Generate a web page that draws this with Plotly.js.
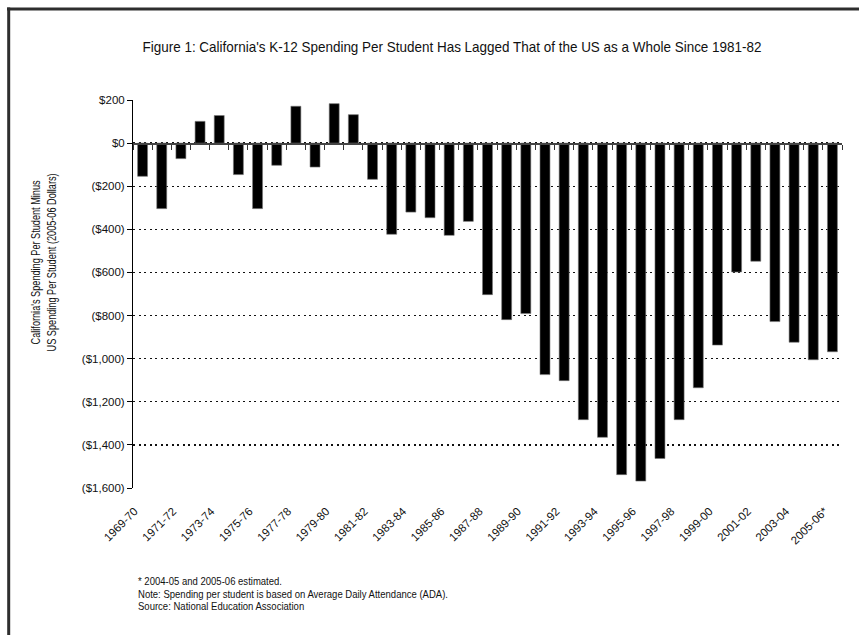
<!DOCTYPE html>
<html>
<head>
<meta charset="utf-8">
<script src="https://cdn.plot.ly/plotly-3.0.1.min.js"></script>
<style>
  html, body { margin: 0; padding: 0; background: #fff; }
  #chart { width: 859px; height: 635px; }
</style>
</head>
<body>
<div id="chart"></div>
<script>
// School years (x categories); the last year is an estimate
const years = [
  "1969-70","1970-71","1971-72","1972-73","1973-74","1974-75","1975-76","1976-77",
  "1977-78","1978-79","1979-80","1980-81","1981-82","1982-83","1983-84","1984-85",
  "1985-86","1986-87","1987-88","1988-89","1989-90","1990-91","1991-92","1992-93",
  "1993-94","1994-95","1995-96","1996-97","1997-98","1998-99","1999-00","2000-01",
  "2001-02","2002-03","2003-04","2004-05","2005-06*"
];

// California per-student spending minus US per-student spending (2005-06 dollars)
const gap = [
  -154, -304, -72, 101, 128, -146, -304, -103,
  171, -111, 183, 132, -168, -423, -320, -346,
  -428, -363, -703, -819, -791, -1074, -1102, -1283,
  -1365, -1538, -1568, -1463, -1283, -1135, -937, -598,
  -548, -828, -924, -1005, -968
];

// Labelled years along the bottom
const xTickLabels = [
  "1969-70","1971-72","1973-74","1975-76","1977-78","1979-80","1981-82","1983-84",
  "1985-86","1987-88","1989-90","1991-92","1993-94","1995-96","1997-98","1999-00",
  "2001-02","2003-04","2005-06*"
];

// Value axis ticks
const yTickVals = [200, 0, -200, -400, -600, -800, -1000, -1200, -1400, -1600];
const yTickText = ["$200", "$0", "($200)", "($400)", "($600)", "($800)",
                   "($1,000)", "($1,200)", "($1,400)", "($1,600)"];

const titleText = "Figure 1: California's K-12 Spending Per Student Has Lagged That of the US as a Whole Since 1981-82";
const yTitleText = "California's Spending Per Student Minus<br>US Spending Per Student (2005-06 Dollars)";
const noteLines = [
  "* 2004-05 and 2005-06 estimated.",
  "Note: Spending per student is based on Average Daily Attendance (ADA).",
  "Source: National Education Association"
];

const yRange = [yTickVals[yTickVals.length - 1], yTickVals[0]];
const xRange = [-0.5, years.length - 0.5];
const zeroPos = (0 - yRange[0]) / (yRange[1] - yRange[0]);

const sans = '"Liberation Sans", Arial, sans-serif';

// pixel helpers for placing page furniture around the plot area
const M = { l: 133, r: 17, t: 100, b: 147 };
const PW = 859 - M.l - M.r, PH = 635 - M.t - M.b;
const px = x => (x - M.l) / PW;
const py = y => (635 - M.b - y) / PH;

const traces = [
  {
    type: "bar",
    x: years,
    y: gap,
    marker: { color: "#000", line: { color: "#777", width: 0.6 } },
    hoverinfo: "skip",
    showlegend: false
  },
  {
    // carries the baseline axis drawn at zero
    type: "scatter",
    mode: "markers",
    x: years,
    y: years.map(() => 0),
    xaxis: "x2",
    yaxis: "y",
    marker: { opacity: 0 },
    hoverinfo: "skip",
    showlegend: false
  }
];

const noteAnnotations = noteLines.map((t, i) => ({
  text: t,
  xref: "paper", yref: "paper",
  x: px(136), y: py([581, 593.5, 606][i]),
  xanchor: "left", yanchor: "middle",
  showarrow: false,
  align: "left",
  font: { family: sans, size: 11, color: "#111" }
}));

const layout = {
  width: 859,
  height: 635,
  margin: M,
  paper_bgcolor: "#fff",
  plot_bgcolor: "#fff",
  bargap: 0.48,
  showlegend: false,
  title: {
    text: titleText,
    font: { family: sans, size: 15, color: "#111" },
    x: 452 / 859, xanchor: "center", xref: "container",
    y: 1 - 47 / 635, yanchor: "middle", yref: "container"
  },
  xaxis: {
    type: "category",
    categoryorder: "array",
    categoryarray: years,
    range: xRange,
    tickmode: "array",
    tickvals: xTickLabels,
    ticktext: xTickLabels,
    tickangle: -45,
    ticks: "outside",
    ticklen: 11,
    tickcolor: "rgba(0,0,0,0)",
    ticklabelshift: -8,
    tickfont: { family: sans, size: 11.5, color: "#111" },
    showline: false,
    showgrid: false,
    zeroline: false
  },
  xaxis2: {
    type: "category",
    categoryorder: "array",
    categoryarray: years,
    range: xRange,
    overlaying: "x",
    anchor: "free",
    position: zeroPos,
    side: "bottom",
    tickmode: "array",
    tickvals: years,
    tickson: "boundaries",
    ticks: "outside",
    ticklen: 5,
    tickwidth: 1,
    tickcolor: "#333",
    showticklabels: false,
    showline: true,
    linecolor: "#444",
    linewidth: 1.5,
    showgrid: false,
    zeroline: false
  },
  yaxis: {
    range: yRange,
    tickmode: "array",
    tickvals: yTickVals,
    ticktext: yTickText,
    tickfont: { family: sans, size: 11.5, color: "#111" },
    ticks: "outside",
    ticklen: 5,
    tickcolor: "#000",
    showline: true,
    linecolor: "#000",
    linewidth: 1,
    showgrid: true,
    gridcolor: "#111",
    gridwidth: 1.4,
    griddash: "2px,3.5px",
    zeroline: false
  },
  annotations: [
    {
      text: yTitleText,
      xref: "paper", yref: "paper",
      x: px(44), y: py(263),
      xanchor: "center", yanchor: "middle",
      textangle: -90,
      showarrow: false,
      align: "center",
      font: { family: sans, size: 12.5, color: "#111" }
    }
  ].concat(noteAnnotations),
  shapes: [
    // frame around the figure (top and left edges)
    {
      type: "line", xref: "paper", yref: "paper",
      x0: px(7), x1: px(870), y0: py(9), y1: py(9),
      line: { color: "#2e2e2e", width: 3 }
    },
    {
      type: "line", xref: "paper", yref: "paper",
      x0: px(8.7), x1: px(8.7), y0: py(7.5), y1: py(650),
      line: { color: "#2e2e2e", width: 3 }
    }
  ]
};

// Condense text: all given pieces are squeezed by one common factor,
// chosen so that the reference piece ends up `target` pixels long.
function condense(parts, refPart, target) {
  if (!refPart) return;
  const k = target / refPart.getComputedTextLength();
  parts.forEach(p => {
    p.setAttribute("textLength", (p.getComputedTextLength() * k).toFixed(1));
    p.setAttribute("lengthAdjust", "spacingAndGlyphs");
  });
}
function linesOf(textEl) {
  const lines = Array.from(textEl.querySelectorAll("tspan.line"));
  return lines.length ? lines : [textEl];
}

Plotly.newPlot("chart", traces, layout, { staticPlot: true, displayModeBar: false })
  .then(gd => {
    const title = gd.querySelector(".gtitle");
    if (title) condense([title], title, 619);
    const texts = Array.from(gd.querySelectorAll(".annotation-text"));
    const yTitleLines = linesOf(texts[0]);
    condense(yTitleLines, yTitleLines[1], 178);
    const notes = texts.slice(1);
    condense(notes, notes[1], 310);
  });
</script>
</body>
</html>
